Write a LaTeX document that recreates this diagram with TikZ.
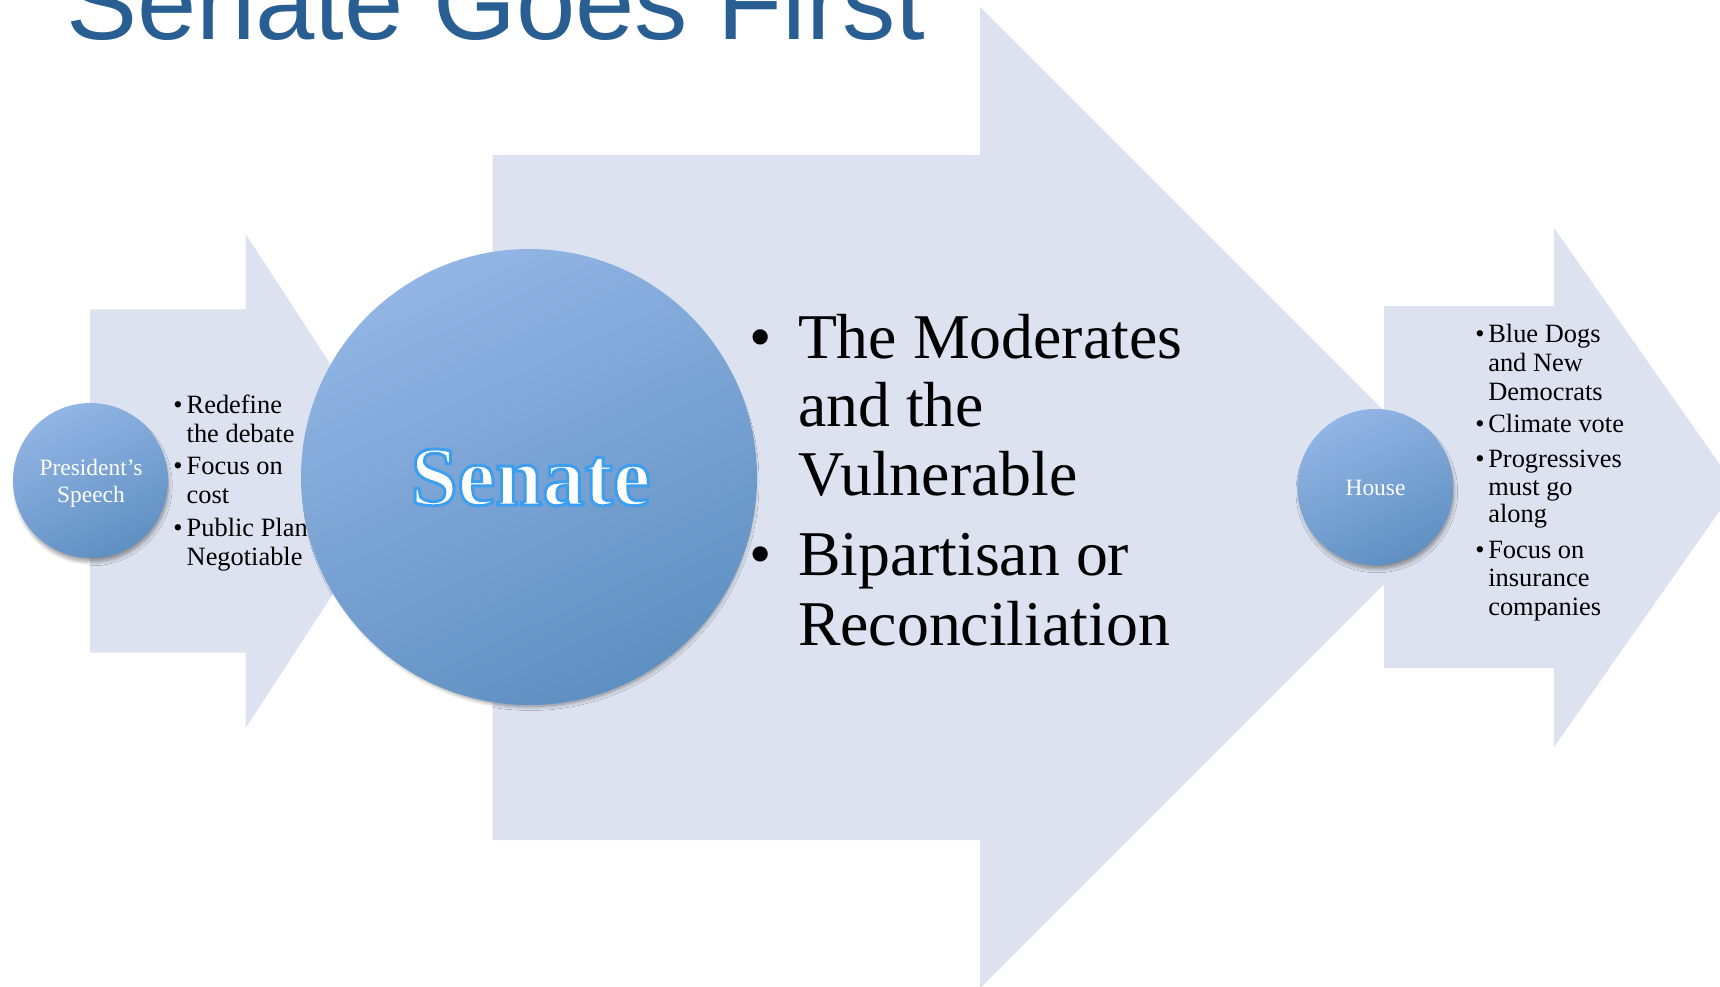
\documentclass[tikz,border=0pt]{standalone}
\usepackage{fontspec}
\setmainfont{Liberation Serif}
\newfontfamily\titlefont{Liberation Sans}
\usetikzlibrary{shadows.blur,calc}
\definecolor{arrowfill}{RGB}{220,226,239}
\definecolor{titleblue}{RGB}{41,94,146}
\definecolor{balltop}{RGB}{146,181,229}
\definecolor{ballbot}{RGB}{95,144,194}
\begin{document}
\begin{tikzpicture}[x=1bp,y=-1bp,
  every node/.style={inner sep=0pt, outer sep=0pt},
  ball/.style={circle, draw=none, top color=balltop, bottom color=ballbot, shading angle=25,
    blur shadow={shadow xshift=1.5bp, shadow yshift=-5bp, shadow scale=0.985, shadow blur radius=4bp, shadow blur steps=8, shadow opacity=40}},
  smalltxt/.style={anchor=base west, font=\fontsize{26.5}{29}\selectfont},
  smallbul/.style={anchor=base, font=\fontsize{26.5}{29}\selectfont},
  bigtxt/.style={anchor=base west, font=\fontsize{64}{68}\selectfont},
  bigbul/.style={anchor=base, font=\fontsize{64}{68}\selectfont},
  balltxt/.style={anchor=base, text=white, font=\fontsize{23.5}{26}\selectfont},
  senatetxt/.style={anchor=base, font=\fontsize{85}{85}\bfseries\selectfont},
  arrowshape/.style={fill=arrowfill, draw=none}]

\useasboundingbox (0,0) rectangle (1720,986);
\clip (0,0) rectangle (1720,986);

% arrows
\fill[arrowshape] (90,309.3) -- (245.7,309.3) -- (245.7,234) -- (406.5,481) -- (245.7,728) -- (245.7,652.7) -- (90,652.7) -- cycle;
\fill[arrowshape] (492.5,155) -- (980,155) -- (980,6.7) -- (1470.8,497.5) -- (980,988.3) -- (980,840) -- (492.5,840) -- cycle;
\fill[arrowshape] (1384,306) -- (1554,306) -- (1554,228) -- (1736,487.5) -- (1554,747) -- (1554,668) -- (1384,668) -- cycle;

% title
\node[anchor=base west, text=titleblue, font=\titlefont\fontsize{107}{107}\selectfont] (title) at (66,39) {Senate Goes First};

% circles
\node[ball, minimum size=155bp] (pres) at (90.5,480.5) {};
\node[ball, minimum size=456bp] (senate) at (529,477) {};
\node[ball, minimum size=156bp] (house) at (1375.3,487) {};

% circle labels
\node[balltxt] (pres1) at (91,475.7) {President’s};
\node[balltxt] (pres2) at (91,502.3) {Speech};
\node[balltxt] (houset) at (1375.5,495) {House};

\node[senatetxt, text=white] (senatet) at (530.5,505)
  {\special{pdf:literal direct 2 Tr 3 w 0.243 0.620 0.933 RG}Senate\special{pdf:literal direct 0 Tr 1 w}};

% left list
\node[smallbul] (lb1) at (178,413.3) {•};
\node[smalltxt] (l1) at (186.7,413.3) {Redefine};
\node[smalltxt] (l2) at (186.7,442.3) {the debate};
\node[smallbul] (lb2) at (178,474) {•};
\node[smalltxt] (l3) at (186.7,474) {Focus on};
\node[smalltxt] (l4) at (186.7,503.3) {cost};
\node[smallbul] (lb3) at (178,536.7) {•};
\node[smalltxt] (l5) at (186.7,536.7) {Public Plan};
\node[smalltxt] (l6) at (186.7,565) {Negotiable};

% senate list
\node[bigbul] (sb1) at (760.7,358.3) {•};
\node[bigtxt] (s1) at (798,358.3) {The Moderates};
\node[bigtxt] (s2) at (798,426.7) {and the};
\node[bigtxt] (s3) at (798,495) {Vulnerable};
\node[bigbul] (sb2) at (760.7,575) {•};
\node[bigtxt] (s4) at (798,575) {Bipartisan or};
\node[bigtxt] (s5) at (798,645) {Reconciliation};

% house list
\node[smallbul] (rb1) at (1480,342.7) {•};
\node[smalltxt] (r1) at (1488.3,342.7) {Blue Dogs};
\node[smalltxt] (r2) at (1488.3,371.7) {and New};
\node[smalltxt] (r3) at (1488.3,400.7) {Democrats};
\node[smallbul] (rb2) at (1480,432.7) {•};
\node[smalltxt] (r4) at (1488.3,432.7) {Climate vote};
\node[smallbul] (rb3) at (1480,467.3) {•};
\node[smalltxt] (r5) at (1488.3,467.3) {Progressives};
\node[smalltxt] (r6) at (1488.3,495.7) {must go};
\node[smalltxt] (r7) at (1488.3,522.7) {along};
\node[smallbul] (rb4) at (1480,558.3) {•};
\node[smalltxt] (r8) at (1488.3,558.3) {Focus on};
\node[smalltxt] (r9) at (1488.3,586.7) {insurance};
\node[smalltxt] (r10) at (1488.3,615) {companies};
\end{tikzpicture}
\end{document}
